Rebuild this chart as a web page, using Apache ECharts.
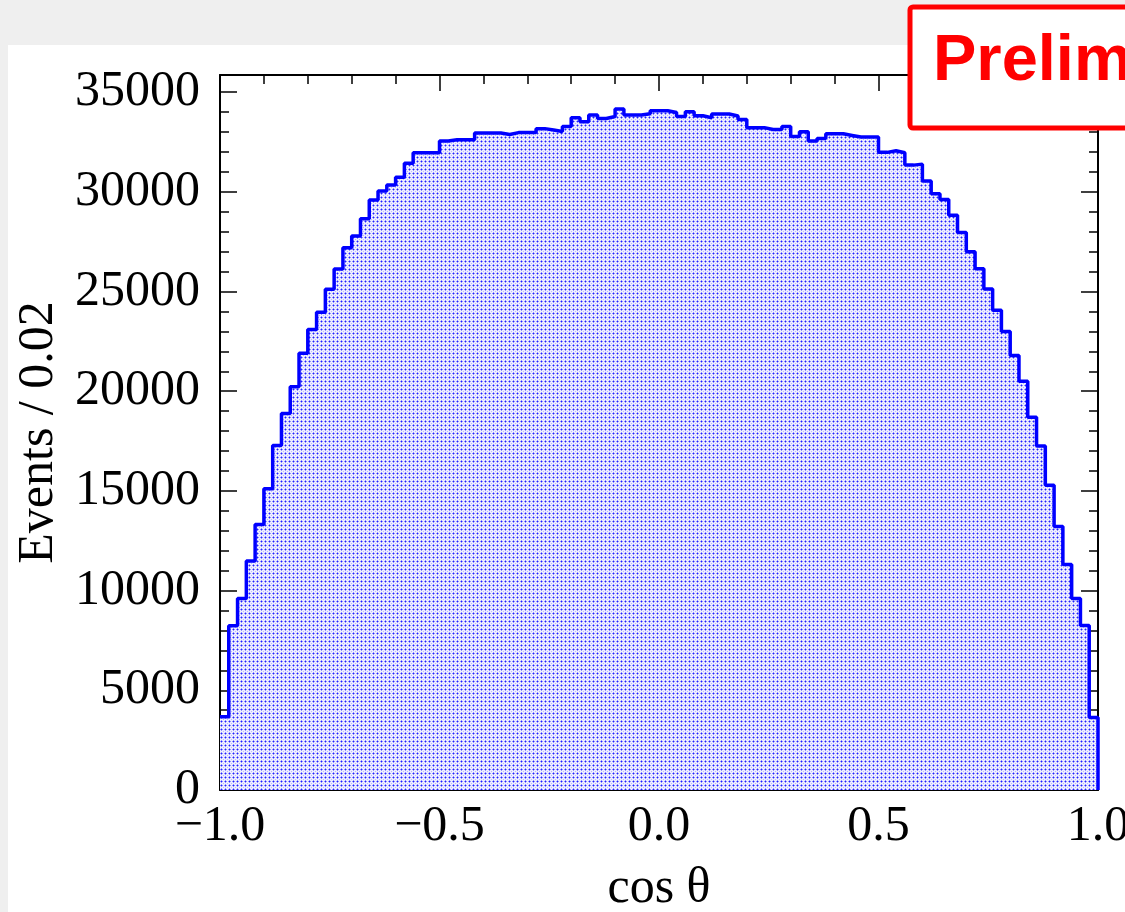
<!DOCTYPE html>
<html>
<head>
<meta charset="utf-8">
<title>cos theta</title>
<script src="https://cdn.jsdelivr.net/npm/echarts@6.0.0/dist/echarts.min.js"></script>
<style>
    html, body { margin: 0; padding: 0; }
    /* grey slide margin round the white canvas */
    #main {
        width: 1125px; height: 912px;
        background: linear-gradient(#fff, #fff) 8px 45px / 1117px 867px no-repeat, #efefef;
    }
</style>
</head>
<body>
<div id="main"></div>
<script>
// binning of the histogram
var xMin = -1.0;
var xMax = 1.0;
var binWidth = 0.02;
var yMax = 35860;

// events per bin (100 bins, left to right)
var binsLeft = [
    3680, 8240, 9610, 11480, 13320, 15110, 17280, 18880, 20230, 21900,
    23100, 23960, 25120, 26130, 27200, 27780, 28650, 29590, 30040, 30340,
    30730, 31430, 31960, 31960, 31960
];
var binsMidLeft = [
    32550, 32610, 32610, 32610, 32950, 32950, 32950, 32880, 32970, 32970,
    32970, 33170, 33100, 33030, 33280, 33720, 33520, 33850, 33680, 33780,
    34150, 33850, 33850, 33920, 34070
];
var binsMidRight = [
    34070, 33980, 33780, 34020, 33820, 33720, 33900, 33900, 33800, 33630,
    33220, 33220, 33130, 33130, 33280, 32780, 33010, 32550, 32680, 32910,
    32910, 32830, 32750, 32750, 32750
];
var binsRight = [
    31980, 32060, 31960, 31340, 31390, 30540, 29900, 29620, 28820, 27960,
    27000, 26140, 25130, 24060, 22990, 21790, 20500, 18700, 17250, 15280,
    13220, 11310, 9600, 8250, 3640
];

var xTickLabels = ['\u22121.0', '\u22120.5', '0.0', '0.5', '1.0'];
var yTickLabels = ['0', '5000', '10000', '15000', '20000', '25000', '30000', '35000'];

(function (win) {
    var hist = {
        init: function () {
            this.counts = binsLeft.concat(binsMidLeft, binsMidRight, binsRight);
            this.initChart();
        },
        // outline points of the histogram, drawn as a step line
        stepPoints: function () {
            var pts = [];
            for (var i = 0; i < this.counts.length; i++) {
                pts.push([xMin + i * binWidth, this.counts[i]]);
            }
            pts.push([xMax, this.counts[this.counts.length - 1]]);
            pts.push([xMax, 0]);
            return pts;
        },
        // small dotted tile, like the root fill style
        dotPattern: function () {
            var c = document.createElement('canvas');
            c.width = 4;
            c.height = 4;
            var ctx = c.getContext('2d');
            ctx.fillStyle = '#eeeeff';
            ctx.fillRect(0, 0, 4, 4);
            ctx.fillStyle = '#9090ff';
            ctx.fillRect(0, 1, 3, 1);
            ctx.fillRect(1, 0, 1, 3);
            ctx.fillStyle = '#2020ff';
            ctx.fillRect(1, 1, 1, 1);
            ctx.fillStyle = '#b8b8ff';
            ctx.fillRect(3, 3, 1, 1);
            return c;
        },
        xAxis: function (pos) {
            var serif = 'Liberation Serif';
            return {
                type: 'value',
                position: pos,
                min: xMin,
                max: xMax,
                interval: 0.5,
                axisLine: { show: true, onZero: false, lineStyle: { color: '#000', width: 2 } },
                axisTick: { show: true, inside: true, length: 16, lineStyle: { color: '#000', width: 1.5 } },
                minorTick: { show: true, splitNumber: 5, length: 9, lineStyle: { color: '#000', width: 1.5 } },
                splitLine: { show: false },
                axisLabel: {
                    show: pos === 'bottom',
                    margin: 12,
                    color: '#000',
                    fontFamily: serif,
                    fontSize: 50,
                    formatter: function (v) {
                        return xTickLabels[Math.round((v - xMin) / 0.5)] || '';
                    }
                },
                name: pos === 'bottom' ? 'cos \u03b8' : '',
                nameLocation: 'middle',
                nameGap: 74,
                nameTextStyle: { color: '#000', fontFamily: serif, fontSize: 50 }
            };
        },
        yAxis: function (pos) {
            var serif = 'Liberation Serif';
            return {
                type: 'value',
                position: pos,
                min: 0,
                max: yMax,
                interval: 5000,
                axisLine: { show: true, onZero: false, lineStyle: { color: '#000', width: 2 } },
                axisTick: { show: true, inside: true, length: 17, lineStyle: { color: '#000', width: 1.5 } },
                minorTick: { show: true, splitNumber: 5, length: 9, lineStyle: { color: '#000', width: 1.5 } },
                splitLine: { show: false },
                axisLabel: {
                    show: pos === 'left',
                    margin: 20,
                    color: '#000',
                    fontFamily: serif,
                    fontSize: 50,
                    formatter: function (v) {
                        return yTickLabels[v / 5000] || '';
                    }
                },
                name: pos === 'left' ? 'Events / 0.02' : '',
                nameLocation: 'middle',
                nameRotate: 90,
                nameGap: 156,
                nameTextStyle: { color: '#000', fontFamily: serif, fontSize: 50 }
            };
        },
        initChart: function () {
            var myChart = echarts.init(document.getElementById('main'), null, { renderer: 'canvas' });
            var option = {
                animation: false,
                grid: { left: 220, top: 75, right: 27, bottom: 122, containLabel: false, outerBoundsMode: 'none' },
                xAxis: [this.xAxis('bottom'), this.xAxis('top')],
                yAxis: [this.yAxis('left'), this.yAxis('right')],
                series: [{
                    type: 'line',
                    xAxisIndex: 0,
                    yAxisIndex: 0,
                    step: 'end',
                    symbol: 'none',
                    data: this.stepPoints(),
                    lineStyle: { color: '#0000ff', width: 3.5 },
                    areaStyle: { color: { image: this.dotPattern(), repeat: 'repeat' }, opacity: 1 },
                    z: 3
                }],
                graphic: [{
                    type: 'rect',
                    shape: { x: 910, y: 7, width: 260, height: 121, r: 3 },
                    style: { fill: '#ffffff', stroke: '#ff0000', lineWidth: 5 },
                    z: 100
                }, {
                    type: 'text',
                    x: 933,
                    y: 62,
                    style: {
                        text: 'Preliminary',
                        fill: '#ff0000',
                        fontFamily: 'Liberation Sans',
                        fontWeight: 'bold',
                        fontSize: 65,
                        verticalAlign: 'middle'
                    },
                    z: 101
                }]
            };
            myChart.setOption(option);
        }
    };
    hist.init();
})(window);
</script>
</body>
</html>
